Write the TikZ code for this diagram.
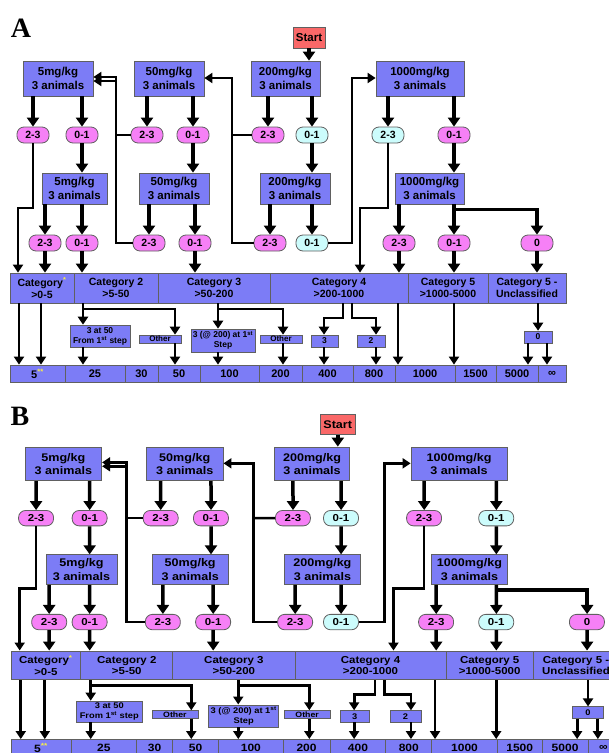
\documentclass[tikz,border=0pt]{standalone}
\usepackage{fontspec}
\setmainfont{Liberation Sans}
\newfontfamily\panelfont{Liberation Serif}
\usetikzlibrary{arrows.meta,positioning}
\definecolor{doseblue}{RGB}{124,124,246}
\definecolor{pillpink}{RGB}{246,128,246}
\definecolor{pillcyan}{RGB}{204,252,252}
\definecolor{startred}{RGB}{250,104,104}
\definecolor{edgegray}{RGB}{96,96,96}
\definecolor{staryellow}{RGB}{250,240,70}
\tikzstyle{dose}      = [draw=edgegray, line width=0.8pt, fill=doseblue, align=center, inner sep=0pt, minimum height=35pt, font=\bfseries\fontsize{11.5}{14}\selectfont]
\tikzstyle{dosetwo}   = [dose, minimum height=31pt]
\tikzstyle{startbox}  = [draw=edgegray, line width=0.8pt, fill=startred, inner sep=0pt, minimum width=32pt, minimum height=21pt, font=\bfseries\fontsize{11.5}{13}\selectfont]
\tikzstyle{pinkpill}  = [draw=edgegray, line width=0.8pt, fill=pillpink, rounded corners=7pt, inner sep=0pt, minimum width=32pt, minimum height=16pt, font=\bfseries\fontsize{10.5}{12}\selectfont]
\tikzstyle{cyanpill}  = [pinkpill, fill=pillcyan]
\tikzstyle{catbox}    = [draw=edgegray, line width=0.8pt, fill=doseblue, align=center, inner sep=0pt, minimum height=30pt, font=\bfseries\fontsize{10.5}{12}\selectfont]
\tikzstyle{valbox}    = [draw=edgegray, line width=0.8pt, fill=doseblue, inner sep=0pt, minimum height=17pt, font=\bfseries\fontsize{11}{13}\selectfont]
\tikzstyle{tinybox}   = [draw=edgegray, line width=0.6pt, fill=doseblue, align=center, inner sep=0pt, font=\bfseries\fontsize{8.5}{10}\selectfont]
\tikzstyle{flowarrow} = [line width=3.5pt, -{Triangle[width=12pt,length=9pt]}]
\tikzstyle{backarrow} = [line width=2.6pt, -{Triangle[width=10pt,length=8pt]}]
\tikzstyle{linkline}  = [line width=2.6pt]
\tikzstyle{droparrow} = [line width=2.8pt, -{Triangle[width=10pt,length=8pt]}]

% one panel of the flow chart, #1 = prefix of the node names,
% #2 #3 #4 = pills under the 1000mg/kg steps
\newcommand{\toxpanel}[4]{%
  \node[startbox] (#1start) at (309,37.5) {Start};
  % first step
  \node[dose, minimum width=70pt] (#1a1) at (58,78.5)    {5mg/kg\\3 animals};
  \node[dose, minimum width=70pt] (#1b1) at (169,78.5)   {50mg/kg\\3 animals};
  \node[dose, minimum width=69pt] (#1c1) at (285.5,78.5) {200mg/kg\\3 animals};
  \node[dose, minimum width=88pt] (#1d1) at (420,78.5)   {1000mg/kg\\3 animals};
  \node[pinkpill] (#1a1l) at (33,135)  {2-3};
  \node[pinkpill] (#1a1r) at (82,135)  {0-1};
  \node[pinkpill] (#1b1l) at (147,135) {2-3};
  \node[pinkpill] (#1b1r) at (193,135) {0-1};
  \node[pinkpill] (#1c1l) at (268,135) {2-3};
  \node[cyanpill] (#1c1r) at (312,135) {0-1};
  \node[#2]       (#1d1l) at (388,135) {2-3};
  \node[#3]       (#1d1r) at (454,135) {0-1};
  % second step
  \node[dosetwo, minimum width=65pt] (#1a2) at (74.5,188.5)  {5mg/kg\\3 animals};
  \node[dosetwo, minimum width=70pt] (#1b2) at (174,188.5)   {50mg/kg\\3 animals};
  \node[dosetwo, minimum width=70pt] (#1c2) at (295,188.5)   {200mg/kg\\3 animals};
  \node[dosetwo, minimum width=69pt] (#1d2) at (429.5,188.5) {1000mg/kg\\3 animals};
  \node[pinkpill] (#1a2l) at (45,243)  {2-3};
  \node[pinkpill] (#1a2r) at (82,243)  {0-1};
  \node[pinkpill] (#1b2l) at (149,243) {2-3};
  \node[pinkpill] (#1b2r) at (195,243) {0-1};
  \node[pinkpill] (#1c2l) at (270,243) {2-3};
  \node[cyanpill] (#1c2r) at (312,243) {0-1};
  \node[pinkpill] (#1d2l) at (399,243) {2-3};
  \node[#4]       (#1d2r) at (454,243) {0-1};
  \node[pinkpill] (#1d2z) at (537,243) {0};
  % categories
  \foreach \xa/\xb/\txt [count=\i] in {10/74/{Category\textsuperscript{\color{staryellow}*}\\>0-5},
      74/158/{Category 2\\>5-50}, 158/270/{Category 3\\>50-200}, 270/408/{Category 4\\>200-1000},
      408/488/{Category 5\\>1000-5000}, 488/566/{Category 5 -\\Unclassified}}{
    \pgfmathsetmacro\cw{\xb-\xa}
    \node[catbox, minimum width=\cw pt] (#1k\i) at ({(\xa+\xb)/2},288) {\txt};
  }
  % LD50 values
  \foreach \xa/\xb/\txt [count=\i] in {10/65/{5\textsuperscript{\color{staryellow}**}}, 65/125/25,
      125/158/30, 158/200/50, 200/259/100, 259/302/200, 302/353/400, 353/395/800,
      395/455/1000, 455/496/1500, 496/538/5000, 538/566/∞}{
    \pgfmathsetmacro\cw{\xb-\xa}
    \node[valbox, minimum width=\cw pt] (#1v\i) at ({(\xa+\xb)/2},373.5) {\txt};
  }
  \node[tinybox, minimum width=60pt, minimum height=22pt] (#1n1) at (100,336)   {3 at 50\\From 1\textsuperscript{st} step};
  \node[tinybox, minimum width=42pt, minimum height=8pt, font=\bfseries\fontsize{8}{9}\selectfont] (#1o1) at (160,339) {Other};
  \node[tinybox, minimum width=64pt, minimum height=23pt] (#1n2) at (223,340.5) {3 (@ 200) at 1\textsuperscript{st}\\Step};
  \node[tinybox, minimum width=42pt, minimum height=8pt, font=\bfseries\fontsize{8}{9}\selectfont] (#1o2) at (281,339) {Other};
  \node[tinybox, minimum width=27pt, minimum height=12pt] (#1t3) at (324.5,341) {3};
  \node[tinybox, minimum width=28pt, minimum height=12pt] (#1t2) at (371,341)   {2};
  \node[tinybox, minimum width=28pt, minimum height=12pt] (#1z)  at (538,337)   {0};

  % arrows of the dosing steps
  \draw[flowarrow] (#1start.south) -- (#1start.south |- #1c1.north);
  \foreach \col in {a,b,c,d}{
    \draw[flowarrow] (#1\col1.south -| #1\col1l) -- (#1\col1l);
    \draw[flowarrow] (#1\col1.south -| #1\col1r) -- (#1\col1r);
    \draw[flowarrow] (#1\col1r) -- (#1\col1r |- #1\col2.north);
    \draw[flowarrow] (#1\col2.south -| #1\col2l) -- (#1\col2l);
    \draw[flowarrow] (#1\col2.south -| #1\col2r) -- (#1\col2r);
  }
  \draw[flowarrow] (#1d2.south -| #1d2r) -- ++(0,5) -| (#1d2z);
  \draw[flowarrow] (#1a2l) -- (#1a2l |- #1k1.north);
  \draw[flowarrow] (#1a2r) -- (#1a2r |- #1k2.north);
  \draw[flowarrow] (#1b2r) -- (#1b2r |- #1k3.north);
  \draw[flowarrow] (#1d2l) -- (#1d2l |- #1k4.north);
  \draw[flowarrow] (#1d2r) -- (#1d2r |- #1k5.north);
  \draw[flowarrow] (#1d2z) -- (#1d2z |- #1k6.north);
  \draw[backarrow] (#1a1l) |- (18,208) -- (#1k1.north -| 18,0);
  \draw[backarrow] (#1d1l) |- (360,208) -- (#1k4.north -| 360,0);
  % going back to a lower dose, or up to 1000mg/kg
  \draw[backarrow] (#1b2l) -| (116,77) -- (#1a1.east |- 0,77);
  \draw[backarrow] (#1b1l) -| (116,81) -- (#1a1.east |- 0,81);
  \draw[backarrow] (#1c2l) -| (232,78) -- (#1b1.east |- 0,78);
  \draw[linkline]  (#1c1l) -- (#1c1l -| 232,0);
  \draw[backarrow] (#1c2r) -| (352,78) -- (#1d1.west |- 0,78);

  % from categories to LD50 values
  \draw[droparrow] (#1k1.south -| 19,0) -- (#1v1.north -| 19,0);
  \draw[droparrow] (#1k1.south -| 41,0) -- (#1v1.north -| 41,0);
  \draw[droparrow] (#1k2.south -| 83,0) -- (#1n1.north -| 83,0);
  \draw[droparrow] (#1k2.south -| 83,0) |- (175,309) -- (#1o1.north -| 175,0);
  \draw[droparrow] (#1n1.south -| 83,0) -- (#1v2.north -| 83,0);
  \draw[droparrow] (#1o1.south -| 175,0) -- (#1v4.north -| 175,0);
  \draw[droparrow] (#1k3.south -| 218,0) -- (#1n2.north -| 218,0);
  \draw[droparrow] (#1k3.south -| 218,0) |- (283,309) -- (#1o2.north -| 283,0);
  \draw[droparrow] (#1n2.south -| 218,0) -- (#1v5.north -| 218,0);
  \draw[droparrow] (#1o2.south -| 283,0) -- (#1v6.north -| 283,0);
  \draw[droparrow] (#1k4.south -| 343,0) |- (324,318) -- (#1t3.north -| 324,0);
  \draw[droparrow] (#1k4.south -| 352,0) |- (376,318) -- (#1t2.north -| 376,0);
  \draw[droparrow] (#1t3.south -| 324,0) -- (#1v7.north -| 324,0);
  \draw[droparrow] (#1t2.south -| 376,0) -- (#1v8.north -| 376,0);
  \draw[droparrow] (#1k4.south -| 398,0) -- (#1v9.north -| 398,0);
  \draw[droparrow] (#1k5.south -| 454,0) -- (#1v10.north -| 454,0);
  \draw[droparrow] (#1k6.south -| 538,0) -- (#1z.north -| 538,0);
  \draw[droparrow] (#1z.south -| 528,0) -- (#1v11.north -| 528,0);
  \draw[droparrow] (#1z.south -| 547,0) -- (#1v12.north -| 547,0);
}

\begin{document}
\begin{tikzpicture}[x=1pt, y=-1pt]
  \clip (0,0) rectangle (609,753);
  \node[font=\panelfont\bfseries\fontsize{28}{30}\selectfont] (labA) at (21,28) {A};
  \node[font=\panelfont\bfseries\fontsize{28}{30}\selectfont] (labB) at (20,416) {B};

  \toxpanel{A}{cyanpill}{pinkpill}{pinkpill}

  \begin{scope}[shift={(0,388.3)}, xscale=1.093, yscale=0.962, transform shape]
    \toxpanel{B}{pinkpill}{cyanpill}{cyanpill}
  \end{scope}
\end{tikzpicture}
\end{document}
